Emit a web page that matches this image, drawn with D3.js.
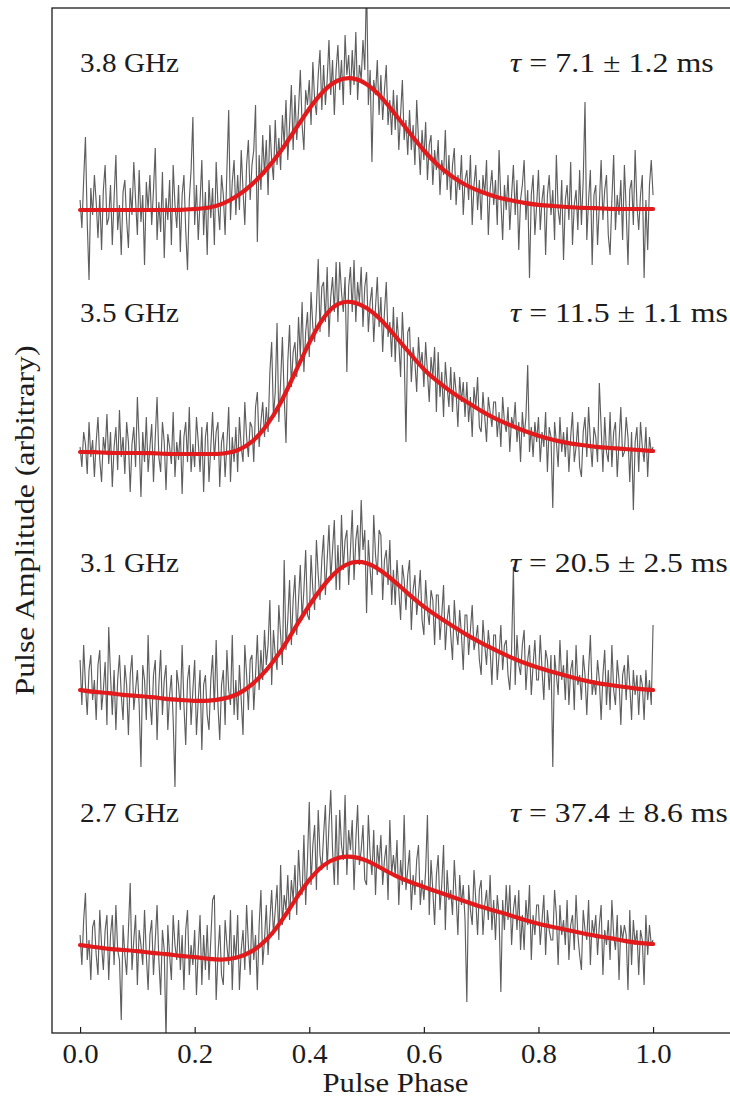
<!DOCTYPE html>
<html>
<head>
<meta charset="utf-8">
<script src="https://cdn.jsdelivr.net/npm/d3@7"></script>
<style>
  body { margin: 0; background: #fff; }
  svg text { font-family: "Liberation Serif", "Times New Roman", serif; fill: #1c1c1c; }
</style>
</head>
<body>
<div id="plot"></div>
<script>
// chart values (profile amplitudes in 0.01 arbitrary units, relative to each offset)
const freqLabels = ["3.8 GHz", "3.5 GHz", "3.1 GHz", "2.7 GHz"];
const tauValues = ["7.1 \u00b1 1.2", "11.5 \u00b1 1.1", "20.5 \u00b1 2.5", "37.4 \u00b1 8.6"];
const offsets = [7.35, 4.93, 2.55, 0];
const xTicks = [0, 0.2, 0.4, 0.6, 0.8, 1.0];
const unit = 0.01;

const phaseBins = d3.range(321).map(i => i / 320);
const fitPhase = d3.range(41).map(i => i / 40);

const gray38 = [
  10,-18,30,73,-12,-70,22,-5, 35,8,-28,15,-40,20,45,-15, -8,25,-35,12,55,-20,5,-45,
  18,30,-10,-38,22,-5,48,10, -25,40,-12,15,-55,28,0,35, -15,20,62,-30,8,-22,38,-48,
  12,-10,30,-35,45,5,-18,25, -42,15,35,-20,-60,10,40,93, -15,25,-30,8,50,-25,18,-45,
  30,-8,22,-35,48,5,-20,35, 15,-25,40,100,-10,28,50,-5, 35,0,60,20,-15,45,70,10,
  45,60,105,-32,55,20,75,35, 70,15,85,50,30,90,45,72, 40,95,65,110,50,85,125,60,
  115,70,100,140,85,60,120,105, 130,85,148,110,95,135,160,100, 145,105,130,170,115,150,95,140,
  165,120,150,105,175,135,155,115, 160,125,178,110,145,130,170,140, 230,105,140,48,130,115,150,95,
  135,90,120,145,85,110,75,120, 80,115,60,95,130,70,90,55, 100,60,85,45,110,70,35,80,
  50,88,30,65,75,25,60,40, 70,15,50,35,80,20,55,10, 45,62,5,35,20,55,-5,30,
  40,10,55,-15,25,45,0,30, -10,35,15,50,-25,20,40,5, 30,-15,60,10,-30,25,0,35,
  -20,15,45,-5,30,-40,10,25, 50,-10,20,-68,15,35,-25,5, 40,-20,10,25,-45,15,35,-5,
  20,-30,55,0,-15,30,-50,10, 25,-10,48,-35,5,20,-20,40, -15,30,108,-30,10,40,-55,15,
  25,-35,5,50,-10,20,35,-25, -45,10,55,-20,15,-5,30,-30, 45,0,-55,20,30,-15,60,5,
  -20,15,35,-68,10,-40,25,50,
  15
];
const gray35 = [
  5,-15,20,8,-22,30,-5,12, -25,10,35,-8,-30,15,0,38, -12,20,-35,5,25,-18,42,-5,
  15,-22,30,10,-40,8,25,-15, 55,10,-45,20,-10,35,-20,5, 28,-30,15,55,-5,-20,30,10,
  -38,18,5,-12,40,-25,10,-8, 22,-42,15,30,-10,45,-20,8, -15,35,10,-20,25,-40,15,30,
  -30,5,40,-8,20,30,-35,10, 20,-25,8,45,-30,15,-10,25, -20,35,5,-10,50,15,-5,30,
  25,-10,45,60,5,30,50,15, 45,20,80,110,35,60,129,30, 70,115,55,9,90,127,65,100,
  110,75,135,95,150,80,120,140, 95,160,125,110,145,193,120,165, 170,130,185,115,155,175,140,190,
  130,190,160,140,175,80,165,185, 140,192,130,170,150,185,125,165, 180,120,150,165,110,145,175,125,
  155,100,140,170,115,130,95,145, 90,135,110,75,140,100,10,120, 125,70,105,90,60,115,85,100,
  65,110,80,50,95,75,105,40, 100,55,80,35,90,65,45,85, 40,80,60,25,75,50,70,35,
  70,30,55,15,65,45,75,25, 20,60,35,10,55,40,25,50, 50,15,40,5,55,30,20,45,
  0,35,25,50,10,30,-10,40, 15,35,87,0,25,-5,30,10, 35,-10,20,5,40,-20,25,15,
  -56,30,10,-15,35,0,20,-5, 25,-20,15,40,-10,5,30,-15, -25,20,35,-5,45,10,-15,25,
  15,-10,69,25,-20,35,0,-10, 40,-15,20,30,-25,10,45,-5, 0,35,15,-30,20,-58,10,25,
  -20,30,5,-10,25,-25,15,0,
  5
];
const gray31 = [
  30,-15,45,5,-25,20,35,-10, 10,-30,25,40,-20,0,28,-35, 63,15,-25,20,-40,10,35,-5,
  -30,25,5,-45,15,35,-20,0, 20,-15,-77,25,10,-30,55,-10, -35,15,30,-50,5,40,-25,10,
  25,-40,-5,15,-30,-97,20,5, -20,45,-15,-55,10,25,-35,0, 30,-45,-10,20,-60,5,15,-25,
  -40,10,35,-20,50,-15,-50,5, 20,-35,40,0,-15,55,-25,10, -30,25,-10,-45,45,15,-20,30,
  35,-20,15,55,0,40,10,60, 25,45,90,5,60,35,20,85, 55,25,130,40,70,110,45,90,
  115,55,90,125,70,100,140,75, 70,135,100,80,150,115,90,130, 155,95,130,165,110,140,170,100,
  145,100,175,120,150,160,105,140, 180,110,150,165,125,190,140,160, 77,150,120,95,175,135,115,160,
  155,90,130,140,105,150,85,120, 85,130,100,70,125,110,80,115, 130,60,100,115,75,95,120,70,
  55,110,80,65,100,90,45,95, 95,50,75,105,40,70,85,55, 30,90,60,45,80,55,20,75,
  75,35,60,85,40,50,65,30, 15,70,45,25,60,40,5,55, 55,10,35,65,20,45,50,15,
  0,40,123,5,55,25,15,45, 60,0,30,45,-5,25,50,10, 10,55,20,-10,40,30,0,35,
  -77,35,15,-5,50,10,25,-10, 40,-15,20,30,-20,45,5,15, -10,35,15,-25,20,55,-5,10,
  -5,30,10,-30,15,40,-15,20, -20,45,0,-15,30,10,-35,15, 25,-10,35,5,-30,20,-5,15,
  -25,15,5,-30,20,-10,10,-15,
  65
];
const gray27 = [
  10,-20,25,52,-15,5,-35,18, 25,-10,-30,35,0,-25,15,30, -35,10,30,-20,40,-5,-15,-75,
  20,-10,-30,15,62,-25,5,30, -40,15,0,-20,35,-10,-45,10, 25,-30,5,40,-15,-50,15,-5,
  -95,20,-10,-35,30,0,-15,25, -25,10,-45,15,35,-30,0,-20, 15,-50,-5,30,-40,10,-25,20,
  -35,5,45,50,-55,-10,20,-30, -40,25,0,-20,35,-45,10,-15, 30,-45,-5,15,-25,40,0,-30,
  35,-15,10,-45,20,55,-20,5, 40,-10,25,55,10,35,60,5, 80,20,50,35,70,25,65,45,
  80,30,95,60,50,110,40,85, 143,60,100,120,55,135,90,75, 110,140,75,120,155,95,60,130,
  60,135,100,85,150,70,115,95, 125,55,105,140,80,95,120,65, 60,130,90,70,115,50,100,80,
  110,60,85,100,45,125,70,90, 70,105,40,85,60,130,55,75, 95,35,70,50,85,100,40,65,
  45,75,130,30,85,55,20,70, 90,35,60,100,15,75,45,55, 30,85,50,10,70,40,60,25,
  -57,60,35,20,75,45,10,55, 65,10,40,55,25,70,15,45, 5,50,30,-47,45,15,60,25,
  60,0,35,50,15,55,-5,30, -5,45,20,60,-15,30,10,40, 40,0,25,50,-10,35,15,5,
  5,55,30,-20,40,10,25,0, 45,-15,20,30,-5,50,10,-10, -25,35,15,5,45,-20,25,10,
  30,-10,20,40,-30,15,0,25, -15,45,10,-5,30,-35,20,5, 20,10,-45,35,-20,25,0,15,
  -30,15,5,-40,30,-10,20,0,
  5
];

const fit38 = [0,0,0,0,0,0,0,0,1,2,6,14,25,40,58,80,102,120,131,133,127,114,96,77,59,44,33,24,18,13,10,7,5,4,3,2,2,1,1,1,1];
const fit35 = [0,0,-1,-1,-1,-1,-2,-2,-2,-2,-2,1,9,25,48,79,110,136,150,151,145,133,116,99,82,70,59,50,41,33,27,21,16,12,9,7,5,4,3,2,1];
const fit31 = [0,-2,-3,-5,-6,-7,-9,-10,-11,-11,-9,-5,5,19,38,62,85,105,121,129,128,120,108,95,83,73,64,55,47,40,33,27,22,18,14,10,7,5,3,1,0];
const fit27 = [0,-2,-4,-5,-6,-8,-9,-11,-12,-14,-15,-13,-7,4,22,45,66,81,88,89,85,77,69,63,58,53,48,43,38,34,30,25,21,18,15,12,9,7,4,2,1];

const traces = [gray38, gray35, gray31, gray27];
const fits = [fit38, fit35, fit31, fit27];

const W = 730, H = 1097;
const frame = { left: 52, top: 8, right: 739, bottom: 1033 };
const fontSize = 27;

const x = d3.scaleLinear().domain([-0.049, 1.15]).range([frame.left, frame.right]);
const y = d3.scaleLinear().domain([-0.88, 9.37]).range([frame.bottom, frame.top]);

const svg = d3.select("#plot").append("svg")
    .attr("width", W)
    .attr("height", H);

svg.append("defs").append("clipPath")
    .attr("id", "clip")
  .append("rect")
    .attr("x", frame.left)
    .attr("y", frame.top)
    .attr("width", frame.right - frame.left)
    .attr("height", frame.bottom - frame.top);

const plot = svg.append("g").attr("clip-path", "url(#clip)");

traces.forEach((vals, k) => {
  const line = d3.line()
      .x((d, i) => x(phaseBins[i]))
      .y(d => y(offsets[k] + d * unit));
  plot.append("path")
      .datum(vals)
      .attr("fill", "none")
      .attr("stroke", "#5e5e5e")
      .attr("stroke-width", 1.15)
      .attr("d", line);
});

fits.forEach((vals, k) => {
  const line = d3.line()
      .x((d, i) => x(fitPhase[i]))
      .y(d => y(offsets[k] + d * unit))
      .curve(d3.curveBasis);
  plot.append("path")
      .datum(vals)
      .attr("fill", "none")
      .attr("stroke", "#e31a1c")
      .attr("stroke-width", 4.2)
      .attr("stroke-linecap", "round")
      .attr("d", line);
});

// frame
svg.append("rect")
    .attr("x", frame.left)
    .attr("y", frame.top)
    .attr("width", frame.right - frame.left)
    .attr("height", frame.bottom - frame.top)
    .attr("fill", "none")
    .attr("stroke", "#1c1c1c")
    .attr("stroke-width", 1.3);

// x axis, ticks pointing inward
const xAxis = d3.axisBottom(x)
    .tickValues(xTicks)
    .tickFormat(d3.format(".1f"))
    .tickSizeInner(-6)
    .tickSizeOuter(0)
    .tickPadding(11);

svg.append("g")
    .attr("transform", `translate(0,${frame.bottom})`)
    .call(xAxis)
    .call(g => g.select(".domain").remove())
    .call(g => g.selectAll(".tick line").attr("stroke", "#1c1c1c").attr("stroke-width", 1.2))
    .call(g => g.selectAll(".tick text")
        .attr("font-family", "Liberation Serif, serif")
        .attr("font-size", fontSize)
        .attr("fill", "#1c1c1c")
        .attr("textLength", 36)
        .attr("lengthAdjust", "spacingAndGlyphs"));

svg.append("text")
    .attr("x", (frame.left + frame.right) / 2)
    .attr("y", 1092)
    .attr("text-anchor", "middle")
    .attr("font-size", fontSize)
    .attr("textLength", 146)
    .attr("lengthAdjust", "spacingAndGlyphs")
    .text("Pulse Phase");

svg.append("text")
    .attr("transform", `translate(34,${(frame.top + frame.bottom) / 2}) rotate(-90)`)
    .attr("text-anchor", "middle")
    .attr("font-size", fontSize)
    .attr("textLength", 350)
    .attr("lengthAdjust", "spacingAndGlyphs")
    .text("Pulse Amplitude (arbitrary)");

// panel labels
freqLabels.forEach((lab, k) => {
  const base = frame.top + 64 + k * 250;
  svg.append("text")
      .attr("x", x(0))
      .attr("y", base)
      .attr("font-size", fontSize)
      .attr("textLength", 99)
      .attr("lengthAdjust", "spacingAndGlyphs")
      .text(lab);

  const t = svg.append("text")
      .attr("x", x(0.75))
      .attr("y", base)
      .attr("font-size", fontSize)
      .attr("lengthAdjust", "spacingAndGlyphs")
      .attr("textLength", tauValues[k].length > 9 ? 218 : 204);
  t.append("tspan").attr("font-style", "italic").text("\u03c4");
  t.append("tspan").text(" = " + tauValues[k] + " ms");
});
</script>
</body>
</html>
